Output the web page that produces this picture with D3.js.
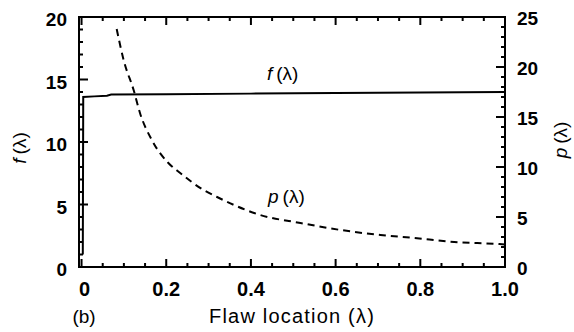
<!DOCTYPE html>
<html>
<head>
<meta charset="utf-8">
<script src="https://cdn.jsdelivr.net/npm/d3@7/dist/d3.min.js"></script>
<style>
  html, body { margin: 0; padding: 0; background: #fff; }
  svg { display: block; }
  text { font-family: "Liberation Sans", Arial, sans-serif; fill: #000; }
</style>
</head>
<body>
<svg id="chart" width="574" height="332"></svg>
<script>
// f(λ): failure function along the flaw position
const fLambda = [0.003, 0.004, 0.03, 0.06, 0.07, 0.2, 0.4, 0.6, 0.8, 1.0];
const fValues = [1.0, 13.6, 13.65, 13.7, 13.8, 13.82, 13.87, 13.92, 13.96, 14.0];

// p(λ): dashed curve on the right axis
const pLambda = [0.083, 0.1, 0.123, 0.138, 0.166, 0.205, 0.233, 0.288, 0.32, 0.36, 0.422, 0.517, 0.612, 0.706, 0.785, 0.88, 0.983, 1.0];
const pValues = [23.8, 20.6, 17.7, 15.4, 12.7, 10.4, 9.4, 7.7, 7.0, 6.2, 5.2, 4.4, 3.7, 3.2, 2.9, 2.5, 2.3, 2.25];

const xTickValues = [0, 0.2, 0.4, 0.6, 0.8, 1.0];
const xTickLabels = ["0", "0.2", "0.4", "0.6", "0.8", "1.0"];
const leftTickValues = [0, 5, 10, 15, 20];
const rightTickValues = [0, 5, 10, 15, 20, 25];

const svg = d3.select("#chart");
const plotLeft = 79, plotRight = 505, plotTop = 17, plotBottom = 267;

const x = d3.scaleLinear().domain([-0.006, 1.0]).range([plotLeft, plotRight]);
const yL = d3.scaleLinear().domain([0, 20]).range([plotBottom, plotTop]);
const yR = d3.scaleLinear().domain([0, 25]).range([plotBottom, plotTop]);

const g = svg.append("g");

// frame
g.append("rect")
  .attr("x", plotLeft).attr("y", plotTop)
  .attr("width", plotRight - plotLeft).attr("height", plotBottom - plotTop)
  .attr("fill", "none").attr("stroke", "#000").attr("stroke-width", 2);

// inward ticks on all four sides
const xMinor = d3.range(0, 1.0001, 0.05).map(v => +v.toFixed(2));
xMinor.forEach(v => {
  const isMajor = xTickValues.some(t => Math.abs(t - v) < 1e-6);
  const len = isMajor ? 8 : 4;
  const px = x(v);
  g.append("line").attr("x1", px).attr("x2", px).attr("y1", plotBottom).attr("y2", plotBottom - len)
    .attr("stroke", "#000").attr("stroke-width", 2);
  g.append("line").attr("x1", px).attr("x2", px).attr("y1", plotTop).attr("y2", plotTop + len)
    .attr("stroke", "#000").attr("stroke-width", 2);
});
d3.range(0, 21).forEach(v => {
  const len = v % 5 === 0 ? 9 : 4;
  g.append("line").attr("x1", plotLeft).attr("x2", plotLeft + len).attr("y1", yL(v)).attr("y2", yL(v))
    .attr("stroke", "#000").attr("stroke-width", 2);
});
d3.range(0, 26).forEach(v => {
  const len = v % 5 === 0 ? 9 : 4;
  g.append("line").attr("x1", plotRight).attr("x2", plotRight - len).attr("y1", yR(v)).attr("y2", yR(v))
    .attr("stroke", "#000").attr("stroke-width", 2);
});

// tick labels
xTickValues.forEach((v, i) => {
  g.append("text").attr("x", x(v) + (i === 0 ? 3 : 0)).attr("y", 296)
    .attr("text-anchor", "middle").attr("font-size", 20).attr("font-weight", "bold")
    .text(xTickLabels[i]);
});
leftTickValues.forEach(v => {
  g.append("text").attr("x", 67).attr("y", yL(v) + 9)
    .attr("text-anchor", "end").attr("font-size", 19).attr("font-weight", "bold")
    .text(v);
});
rightTickValues.forEach(v => {
  g.append("text").attr("x", 517).attr("y", yR(v) + 8)
    .attr("text-anchor", "start").attr("font-size", 19).attr("font-weight", "bold")
    .text(v);
});

// curves
const fLine = d3.line().x((d, i) => x(fLambda[i])).y(d => yL(d));
g.append("path").datum(fValues).attr("d", fLine)
  .attr("fill", "none").attr("stroke", "#000").attr("stroke-width", 2);

const pLine = d3.line().curve(d3.curveMonotoneX).x((d, i) => x(pLambda[i])).y(d => yR(d));
g.append("path").datum(pValues).attr("d", pLine)
  .attr("fill", "none").attr("stroke", "#000").attr("stroke-width", 2)
  .attr("stroke-dasharray", "7,5");

// function-name labels: italic letter, then (λ)
function fnText(sel, name) {
  sel.append("tspan").attr("font-style", "italic").text(name);
  sel.append("tspan").attr("dx", 4).text("(λ)");
}
g.append("text").attr("x", 267).attr("y", 80).attr("font-size", 19).call(fnText, "f");
g.append("text").attr("x", 268).attr("y", 203).attr("font-size", 19).call(fnText, "p");

// axis titles
svg.append("text").attr("transform", "translate(26,148) rotate(-90)")
  .attr("text-anchor", "middle").attr("font-size", 19).call(fnText, "f");
svg.append("text").attr("transform", "translate(567,140) rotate(-90)")
  .attr("text-anchor", "middle").attr("font-size", 19).call(fnText, "p");

svg.append("text").attr("x", 292).attr("y", 323).attr("text-anchor", "middle")
  .attr("font-size", 20).attr("letter-spacing", 1.2).text("Flaw location (λ)");
svg.append("text").attr("x", 84).attr("y", 323).attr("text-anchor", "middle")
  .attr("font-size", 19).text("(b)");
</script>
</body>
</html>
